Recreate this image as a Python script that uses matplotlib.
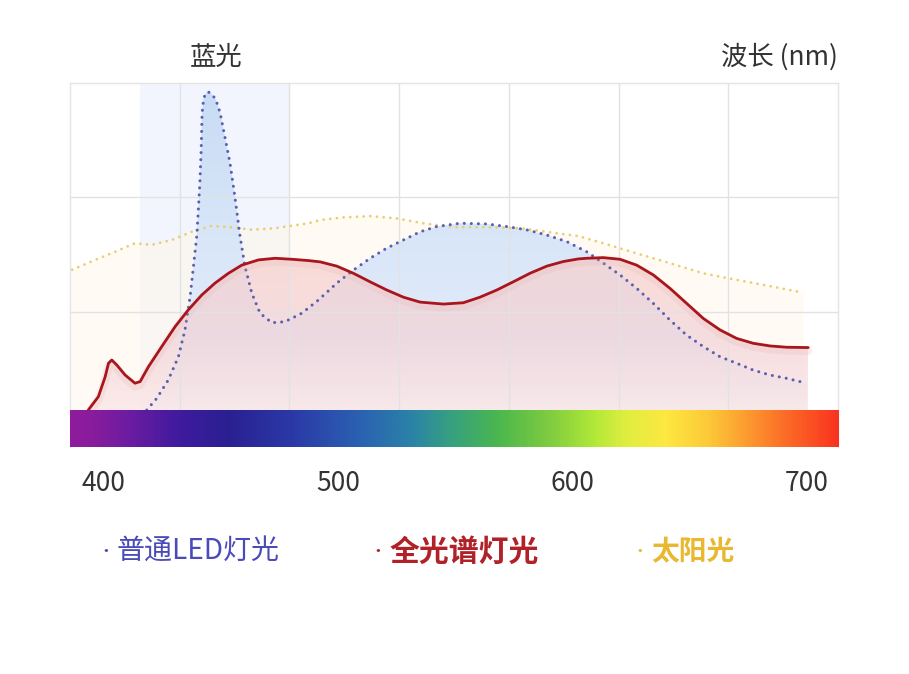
import numpy as np
import matplotlib.pyplot as plt
from matplotlib.colors import LinearSegmentedColormap
from matplotlib.patches import Polygon, Rectangle

plt.rcParams['font.family'] = ['Noto Sans CJK SC', 'DejaVu Sans']

# 全光谱灯光 (실선)
full_nm = [393.7, 398.0, 400.9, 402.3, 403.7, 405.8, 409.4, 413.6, 415.8, 419.3,
           425.0, 430.7, 436.3, 442.1, 447.7, 453.4, 459.1, 466.2, 473.3, 480.4,
           487.5, 492.5, 499.6, 506.7, 513.8, 520.9, 528.0, 535.1, 545.0, 553.5,
           560.6, 567.8, 574.8, 581.9, 589.1, 596.1, 602.5, 606.1, 613.2, 620.3,
           627.4, 634.5, 641.6, 648.7, 655.8, 662.9, 670.0, 677.1, 684.2, 691.3,
           700.5]
full_val = [0.0, 4.1, 10.2, 14.3, 15.3, 13.8, 10.7, 8.2, 8.7, 13.2,
            19.4, 25.5, 30.6, 35.2, 38.8, 41.8, 44.3, 45.9, 46.4, 46.1,
            45.7, 45.3, 44.0, 41.8, 39.2, 36.7, 34.5, 33.0, 32.4, 32.8,
            34.5, 36.7, 39.2, 41.8, 44.0, 45.4, 46.2, 46.4, 46.6, 46.1,
            44.3, 41.3, 37.2, 32.6, 28.0, 24.5, 21.9, 20.4, 19.6, 19.2,
            19.1]

# 普通LED灯光 (점선)
led_nm = [418.6, 422.9, 427.8, 432.1, 434.9, 437.1, 438.5, 439.9, 440.6, 441.3,
          441.8, 442.2, 442.8, 443.5, 444.7, 446.4, 448.1, 449.9, 452.0, 454.1,
          456.2, 458.4, 460.5, 463.4, 466.9, 471.9, 477.5, 484.7, 491.7, 499.6,
          506.7, 513.8, 520.9, 528.0, 535.1, 542.2, 552.1, 563.5, 572.0, 580.5,
          589.1, 597.6, 606.1, 613.2, 620.3, 627.4, 634.5, 641.6, 648.7, 655.8,
          662.9, 670.0, 677.1, 684.2, 691.3, 699.8]
led_val = [0.0, 3.6, 9.2, 16.3, 24.5, 34.7, 43.8, 53.0, 61.2, 70.3,
           79.5, 90.8, 94.8, 96.6, 97.3, 96.6, 94.8, 90.8, 83.2, 75.5,
           65.1, 53.0, 43.8, 35.7, 29.6, 26.7, 27.0, 29.6, 33.6, 38.8,
           42.8, 46.4, 49.5, 52.0, 54.5, 56.1, 57.1, 56.9, 56.1, 55.1,
           53.5, 51.5, 48.4, 44.9, 41.3, 37.2, 32.6, 27.5, 22.9, 19.4,
           16.3, 14.3, 12.2, 10.7, 9.7, 8.2]

# 太阳光 (점선)
sun_nm = [386.8, 396.6, 405.1, 413.6, 420.7, 429.3, 437.8, 446.3, 454.8, 463.4,
          473.3, 487.5, 492.5, 502.4, 513.8, 525.1, 536.5, 549.3, 563.5, 577.7,
          591.9, 602.5, 613.2, 627.4, 641.6, 655.8, 670.0, 684.2, 698.4]
sun_val = [42.9, 45.9, 48.4, 51.0, 50.5, 52.0, 54.5, 56.3, 55.9, 55.1,
           55.6, 57.1, 58.1, 58.9, 59.3, 58.6, 57.1, 55.9, 55.9, 55.6,
           54.2, 53.2, 51.0, 47.9, 44.9, 41.8, 39.8, 37.9, 35.9]

tick_nm = [400, 500, 600, 700]
blue_band = (415.8, 479.7)

# 스펙트럼 색상 (파장, 색)
spec_nm = [385.9, 393.7, 410.2, 431.5, 452.8, 481.0, 509.5, 530.8, 547.9, 569.2,
           590.5, 608.8, 623.3, 640.3, 658.6, 675.7, 689.7, 711.0, 713.2]
spec_col = ['#8e1c9c', '#8a1c9c', '#6c1ca2', '#401a9e', '#2a2092', '#2a3aa8', '#2a62b2',
            '#2a82a8', '#36a080', '#4cb84c', '#80cc40', '#b0e838', '#e0ee40', '#fde840',
            '#fcc838', '#fc9830', '#fc7028', '#fa3a20', '#f83420']

x0, x1 = 385.9, 713.2
y0, y1 = -11.3, 100


def gradient_fill(ax, xs, ys, colors, zorder):
    verts = [(xs[0], 0)] + list(zip(xs, ys)) + [(xs[-1], 0)]
    poly = Polygon(verts, closed=True, facecolor='none', edgecolor='none')
    ax.add_patch(poly)
    cmap = LinearSegmentedColormap.from_list('g', colors)
    grad = np.linspace(0, 1, 256).reshape(-1, 1)
    im = ax.imshow(grad, extent=[min(xs), max(xs), 0, max(ys)], origin='lower',
                   aspect='auto', cmap=cmap, zorder=zorder, interpolation='bilinear')
    im.set_clip_path(poly)


fig = plt.figure(figsize=(9.09, 6.74), dpi=100)
ax = fig.add_axes([0.077, 0.3368, 0.8449, 0.5401])

# 청색광 영역
ax.add_patch(Rectangle((blue_band[0], 0), blue_band[1] - blue_band[0], y1,
                       facecolor='#f2f5fd', edgecolor='none', zorder=0.2))

# 면 채우기
gradient_fill(ax, sun_nm, sun_val, [(1, 0.975, 0.94, 0.6), (1, 0.97, 0.92, 0.6)], 1.0)
gradient_fill(ax, led_nm, led_val, ['#e6eefa', '#dae7f8', '#c8dcf5'], 1.1)
gradient_fill(ax, full_nm, full_val,
              [(0.985, 0.91, 0.91, 0.85), (0.95, 0.82, 0.84, 0.7), (0.97, 0.82, 0.81, 0.75)], 1.2)

# 선
ax.plot(sun_nm, sun_val, color='#e6cf72', lw=2.0, dashes=(0.01, 2.4),
        dash_capstyle='round', zorder=2.2)
ax.plot(led_nm, led_val, color='#5b5fb0', lw=2.2, dashes=(0.01, 2.3),
        dash_capstyle='round', zorder=2.3)
ax.plot(full_nm, np.array(full_val) - 1.0, color='#e8b0b0', lw=6, alpha=0.2,
        solid_capstyle='round', zorder=2.35)
ax.plot(full_nm, full_val, color='#a8151d', lw=2.0, solid_capstyle='round',
        solid_joinstyle='round', zorder=2.4)

# 스펙트럼 띠
pos = [(v - x0) / (x1 - x0) for v in spec_nm]
spec_cmap = LinearSegmentedColormap.from_list('spec', list(zip(pos, spec_col)))
ax.imshow(np.linspace(0, 1, 600).reshape(1, -1), extent=[x0, x1, y0, 0],
          aspect='auto', cmap=spec_cmap, zorder=3, interpolation='bilinear')

ax.set_xlim(x0, x1)
ax.set_ylim(y0, y1)

# 격자
ax.set_xticks(np.linspace(x0, x1, 8)[1:-1], minor=True)
ax.set_yticks([65, 30], minor=True)
ax.set_yticks([])
ax.set_axisbelow('line')
ax.grid(which='minor', color='#e2e2e2', lw=1.0)
ax.tick_params(which='both', length=0)

ax.set_xticks(tick_nm)
ax.set_xticklabels([str(t) for t in tick_nm], fontsize=19, color='#333333')
ax.tick_params(axis='x', which='major', pad=16.5)

for s in ['top', 'left', 'right']:
    ax.spines[s].set_color('#e4e4e4')
    ax.spines[s].set_linewidth(1.0)
ax.spines['bottom'].set_visible(False)

ax.text(0.19, 1.071, '蓝光', transform=ax.transAxes, ha='center', va='center',
        fontsize=19, color='#333333')
ax.text(1.0, 1.071, '波长 (nm)', transform=ax.transAxes, ha='right', va='center',
        fontsize=19, color='#333333')

# 범례 (점 + 글자)
legend_items = [('普通LED灯光', '#4a4ab8', 20.2, 'normal', 0.061),
                ('全光谱灯光', '#b02228', 21.5, 'bold', 0.416),
                ('太阳光', '#e8b830', 20, 'bold', 0.757)]
for label, col, fs, fw, xt in legend_items:
    ax.text(xt - 0.004, -0.286, '·', transform=ax.transAxes, ha='right', va='center',
            fontsize=12, color=col)
    ax.text(xt, -0.288, label, transform=ax.transAxes, ha='left', va='center',
            fontsize=fs, color=col, fontweight=fw)

fig.savefig('out.png', dpi=100)
